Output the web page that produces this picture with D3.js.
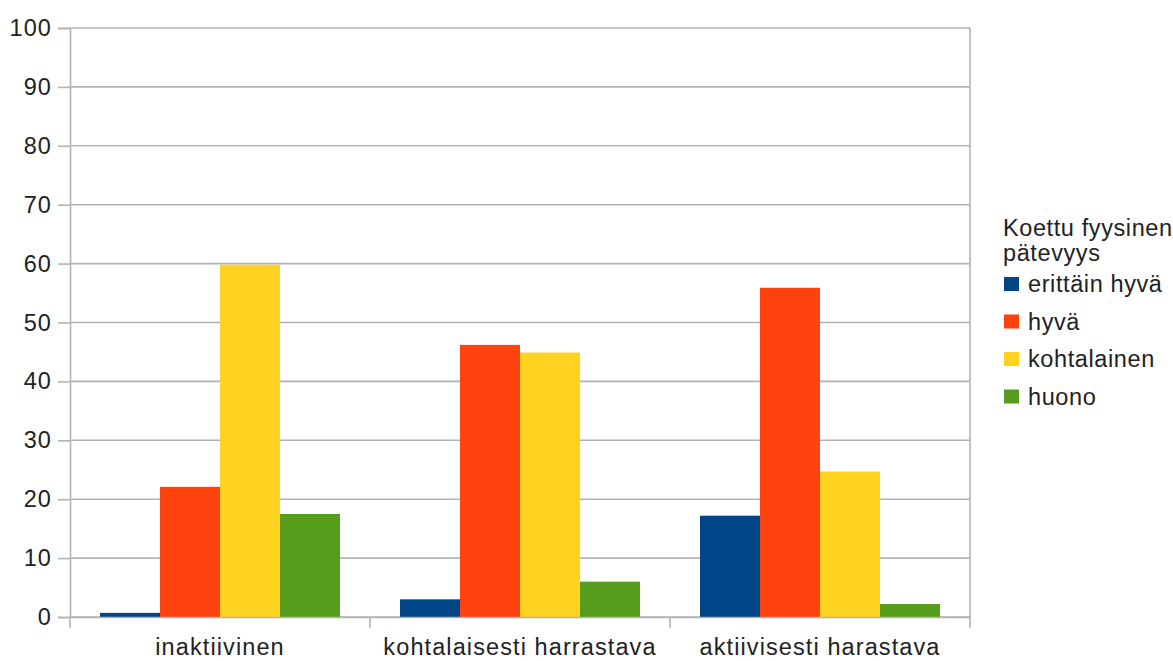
<!DOCTYPE html>
<html>
<head>
<meta charset="utf-8">
<script src="https://cdn.jsdelivr.net/npm/d3@7"></script>
<style>
  html, body { margin: 0; padding: 0; background: #fff; }
  text { font-family: "Liberation Sans", Arial, sans-serif; fill: #222; letter-spacing: 1.1px; }
  .legend text { letter-spacing: 0.6px; }
</style>
</head>
<body>
<svg id="chart" width="1173" height="661"></svg>
<script>
// Activity groups on the x axis
const categories = ["inaktiivinen", "kohtalaisesti harrastava", "aktiivisesti harastava"];
// Perceived physical competence levels (legend series)
const seriesNames = ["erittäin hyvä", "hyvä", "kohtalainen", "huono"];
const seriesColors = ["#004586", "#ff420e", "#ffd320", "#579d1c"];
// Percentages per series, one value per category
const erittainHyva = [0.7, 3.0, 17.2];
const hyva = [22.1, 46.2, 55.9];
const kohtalainen = [59.8, 44.9, 24.7];
const huono = [17.5, 6.0, 2.2];
const yTicks = [0, 10, 20, 30, 40, 50, 60, 70, 80, 90, 100];
const legendTitle = ["Koettu fyysinen", "pätevyys"];

const seriesValues = [erittainHyva, hyva, kohtalainen, huono];

const svg = d3.select("#chart");
const plot = { left: 70, right: 970, top: 28, bottom: 617 };
const gridColor = "#b3b3b3";
const fontSize = 23.5;

const y = d3.scaleLinear().domain([0, 100]).range([plot.bottom, plot.top]);
const x0 = d3.scaleBand().domain(categories).range([plot.left, plot.right]).padding(0);
const x1 = d3.scaleBand().domain(seriesNames)
  .range([x0.bandwidth() * 0.1, x0.bandwidth() * 0.9]).padding(0);

// Horizontal grid lines
svg.append("g")
  .selectAll("line")
  .data(yTicks)
  .join("line")
  .attr("x1", plot.left).attr("x2", plot.right)
  .attr("y1", d => y(d)).attr("y2", d => y(d))
  .attr("stroke", gridColor).attr("stroke-width", 1.6);

// Right border of the plot area
svg.append("line")
  .attr("x1", plot.right).attr("x2", plot.right)
  .attr("y1", plot.top).attr("y2", plot.bottom)
  .attr("stroke", gridColor).attr("stroke-width", 1.6);

// Bars
const groups = svg.append("g")
  .selectAll("g")
  .data(categories)
  .join("g")
  .attr("transform", d => `translate(${x0(d)},0)`);

groups.selectAll("rect")
  .data((c, ci) => seriesNames.map((s, si) => ({ s, v: seriesValues[si][ci], color: seriesColors[si] })))
  .join("rect")
  .attr("x", d => x1(d.s))
  .attr("width", x1.bandwidth())
  .attr("y", d => y(d.v))
  .attr("height", d => y(0) - y(d.v))
  .attr("fill", d => d.color);

// Y axis
const yAxis = svg.append("g")
  .attr("transform", `translate(${plot.left},0)`)
  .call(d3.axisLeft(y).tickValues(yTicks).tickSize(12).tickPadding(6));
yAxis.select(".domain").attr("stroke", gridColor).attr("stroke-width", 1.6);
yAxis.selectAll(".tick line").attr("stroke", gridColor).attr("stroke-width", 1.6);
yAxis.selectAll(".tick text")
  .attr("font-size", fontSize)
  .attr("font-family", "Liberation Sans, Arial, sans-serif")
  .attr("fill", "#222");

// X axis with ticks on the group boundaries
const xAxis = svg.append("g")
  .attr("transform", `translate(0,${plot.bottom})`)
  .call(d3.axisBottom(x0).tickSize(0).tickPadding(21));
xAxis.select(".domain").attr("stroke", gridColor).attr("stroke-width", 1.6);
xAxis.selectAll(".tick text")
  .attr("font-size", fontSize)
  .attr("font-family", "Liberation Sans, Arial, sans-serif")
  .attr("fill", "#222")
  .attr("dy", "0.71em");

const boundaries = categories.map(c => x0(c)).concat([plot.right]);
xAxis.append("g")
  .selectAll("line")
  .data(boundaries)
  .join("line")
  .attr("x1", d => d).attr("x2", d => d)
  .attr("y1", 0).attr("y2", 11)
  .attr("stroke", gridColor).attr("stroke-width", 1.6);

// Legend
const legend = svg.append("g").attr("class", "legend").attr("transform", "translate(1003,0)");
legend.selectAll("text.title")
  .data(legendTitle)
  .join("text")
  .attr("class", "title")
  .attr("x", 0)
  .attr("y", (d, i) => 236 + i * 25)
  .attr("font-size", fontSize)
  .text(d => d);

const items = legend.selectAll("g.item")
  .data(seriesNames)
  .join("g")
  .attr("class", "item")
  .attr("transform", (d, i) => `translate(0,${284 + i * 37.5})`);
items.append("rect")
  .attr("x", 1).attr("y", -7)
  .attr("width", 15).attr("height", 14)
  .attr("fill", (d, i) => seriesColors[i]);
items.append("text")
  .attr("x", 25).attr("y", 8)
  .attr("font-size", fontSize)
  .text(d => d);
</script>
</body>
</html>
